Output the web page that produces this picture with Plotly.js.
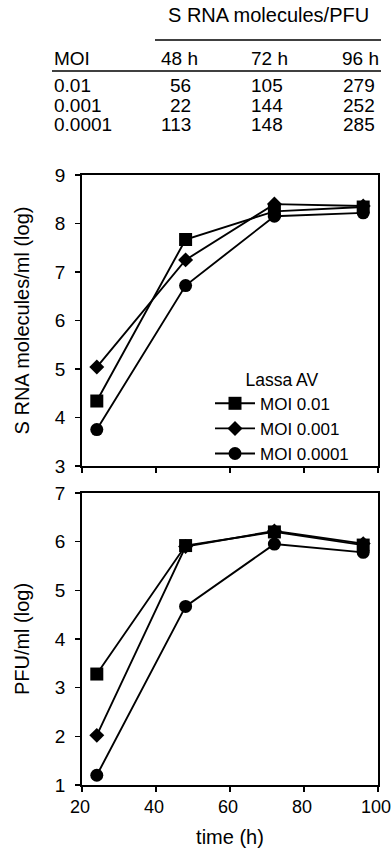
<!DOCTYPE html>
<html><head><meta charset="utf-8">
<script src="https://cdn.plot.ly/plotly-3.0.1.min.js"></script>
<style>html,body{margin:0;padding:0;background:#fff}</style>
</head><body><div id="chart" style="width:391px;height:851px"></div>
<script>
// ---- data ----
const timeH = [24, 48, 72, 96];
const seriesNames = ['MOI 0.01', 'MOI 0.001', 'MOI 0.0001'];
const rnaMoi1e2 = [4.34, 7.67, 8.25, 8.34];
const rnaMoi1e3 = [5.04, 7.25, 8.40, 8.36];
const rnaMoi1e4 = [3.75, 6.72, 8.15, 8.22];
const pfuMoi1e2 = [3.28, 5.92, 6.20, 5.93];
const pfuMoi1e3 = [2.02, 5.90, 6.22, 5.96];
const pfuMoi1e4 = [1.20, 4.67, 5.95, 5.78];
const tableTitle = 'S RNA molecules/PFU';
const tableHeader = ['MOI', '48 h', '72 h', '96 h'];
const tableMoi = ['0.01', '0.001', '0.0001'];
const ratio48h = [56, 22, 113];
const ratio72h = [105, 144, 148];
const ratio96h = [279, 252, 285];

// ---- styling / layout ----
const FONT = '"Liberation Sans", Arial, Helvetica, sans-serif';
const symbols = ['square', 'diamond', 'circle'];
const sizes = [13, 11.5, 13];
const L = 82, R = 378, T = 175, B = 785;
const px = x => (x - L) / (R - L);
const py = y => (B - y) / (B - T);

function mk(x, y, i, xa, ya, show) {
  return {
    x: x, y: y, xaxis: xa, yaxis: ya, type: 'scatter', mode: 'lines+markers',
    name: seriesNames[i], showlegend: show, legendgroup: 'g' + i,
    line: {color: '#000', width: 1.9},
    marker: {symbol: symbols[i], size: sizes[i], color: '#000', line: {width: 0}},
    cliponaxis: false
  };
}
const rna = [rnaMoi1e2, rnaMoi1e3, rnaMoi1e4];
const pfu = [pfuMoi1e2, pfuMoi1e3, pfuMoi1e4];
const traces = [];
rna.forEach((s, i) => traces.push(mk(timeH, s, i, 'x2', 'y', true)));
pfu.forEach((s, i) => traces.push(mk(timeH, s, i, 'x', 'y2', false)));

const axBase = {
  showline: true, linecolor: '#000', linewidth: 1.8, mirror: true,
  ticks: 'outside', ticklen: 5, tickwidth: 1.6, tickcolor: '#000',
  showgrid: false, zeroline: false, ticklabeloverflow: 'allow',
  tickfont: {size: 19, color: '#000', family: FONT}
};
const splitFrac = py(466), botTop = py(493);

const annotations = [];
const ann = (text, x, y, xanchor, size) => annotations.push({
  text: text, xref: 'paper', yref: 'paper', x: px(x), y: py(y),
  xanchor: xanchor, yanchor: 'middle', showarrow: false,
  font: {size: size, color: '#000', family: FONT}
});
ann(tableTitle, 268, 15, 'center', 20);
ann(tableHeader[0], 52, 59, 'left', 19);
const hdrRight = [200, 290, 381];
const valRight = [193, 285, 377];
for (let k = 1; k < 4; k++) ann(tableHeader[k], hdrRight[k - 1], 59, 'right', 19);
const rowsY = [85, 105, 125];
const cols = [ratio48h, ratio72h, ratio96h];
tableMoi.forEach((m, r) => {
  ann(m, 52, rowsY[r], 'left', 19);
  cols.forEach((c, k) => ann(String(c[r]), valRight[k], rowsY[r], 'right', 19));
});

const shapes = [
  {type: 'line', xref: 'paper', yref: 'paper', x0: px(155), x1: px(381), y0: py(40), y1: py(40), line: {color: '#000', width: 1.6}},
  {type: 'line', xref: 'paper', yref: 'paper', x0: px(52), x1: px(381), y0: py(71), y1: py(71), line: {color: '#000', width: 1.6}}
];

const layout = {
  width: 391, height: 851,
  margin: {l: L, r: 391 - R, t: T, b: 851 - B},
  paper_bgcolor: '#fff', plot_bgcolor: '#fff',
  font: {family: FONT, color: '#000', size: 19},
  showlegend: true,
  legend: {
    x: px(210), y: py(363), xanchor: 'left', yanchor: 'top',
    bgcolor: 'rgba(0,0,0,0)', font: {size: 17, family: FONT, color: '#000'},
    title: {text: 'Lassa AV', side: 'top center', font: {size: 17.5, family: FONT, color: '#000'}},
    tracegroupgap: 0, itemwidth: 40
  },
  xaxis: Object.assign({}, axBase, {domain: [0, 1], anchor: 'y2', range: [20, 100], tickvals: [20, 40, 60, 80, 100],
    tickfont: {size: 18, color: '#000', family: FONT}, ticklabelshift: -2,
    title: {text: 'time (h)', font: {size: 20, family: FONT, color: '#000'}, standoff: 13}}),
  xaxis2: Object.assign({}, axBase, {domain: [0, 1], anchor: 'y', range: [20, 100], tickvals: [20, 40, 60, 80, 100], showticklabels: false}),
  yaxis: Object.assign({}, axBase, {domain: [splitFrac, 1], anchor: 'x2', range: [3, 9], tickvals: [3, 4, 5, 6, 7, 8, 9],
    ticklabelstandoff: 6,
    title: {text: 'S RNA molecules/ml (log)', font: {size: 20, family: FONT, color: '#000'}, standoff: 20}}),
  yaxis2: Object.assign({}, axBase, {domain: [0, botTop], anchor: 'x', range: [1, 7], tickvals: [1, 2, 3, 4, 5, 6, 7],
    ticklabelstandoff: 6,
    title: {text: 'PFU/ml (log)', font: {size: 20, family: FONT, color: '#000'}, standoff: 20}}),
  annotations: annotations,
  shapes: shapes
};

Plotly.newPlot('chart', traces, layout, {displayModeBar: false, staticPlot: true});
</script>
</body></html>
